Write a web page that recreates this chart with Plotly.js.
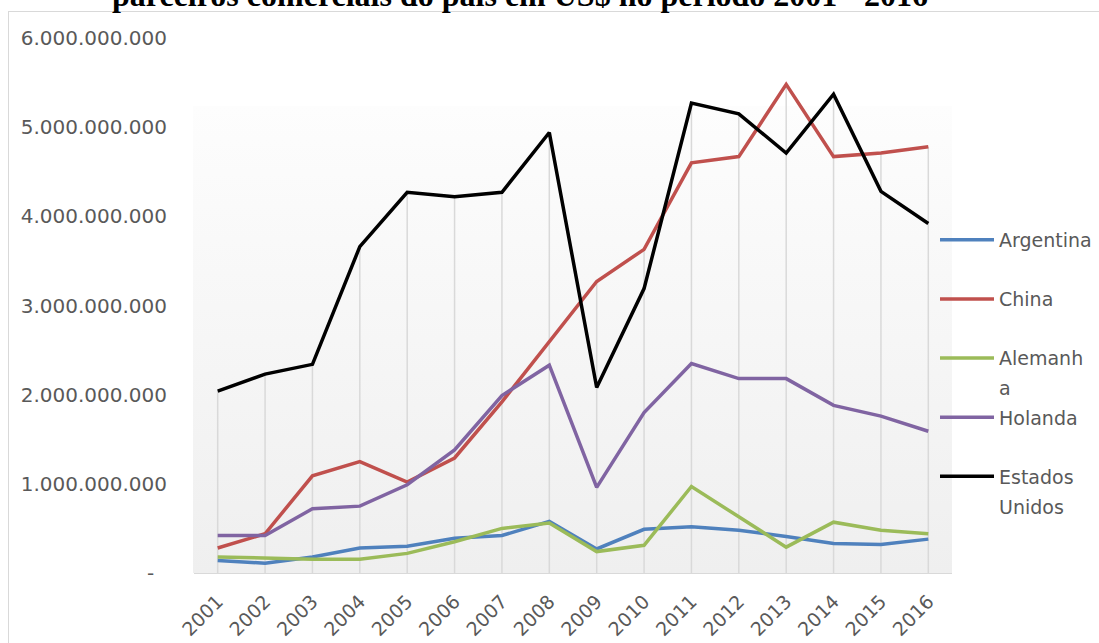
<!DOCTYPE html>
<html>
<head>
<meta charset="utf-8">
<script src="https://cdn.plot.ly/plotly-3.0.1.min.js"></script>
<style>
  html, body { margin: 0; padding: 0; overflow: hidden; background: #ffffff; }
  #frame { position: absolute; left: 8px; top: 11px; width: 2000px; height: 2000px; border: 1px solid #d9d9d9; box-sizing: border-box; }
  #plotbg { position: absolute; left: 193px; top: 106px; width: 759px; height: 467px;
            background: linear-gradient(to bottom, #fdfdfd 0%, #efefef 100%); }
  #chart { position: absolute; left: 0; top: 0; width: 1099px; height: 643px; }
</style>
</head>
<body>
<div id="frame"></div>
<div id="plotbg"></div>
<div id="chart"></div>
<script>
const years = ['2001','2002','2003','2004','2005','2006','2007','2008','2009','2010','2011','2012','2013','2014','2015','2016'];
const argentina = [140000000,110000000,180000000,280000000,300000000,390000000,420000000,580000000,270000000,490000000,520000000,480000000,410000000,330000000,320000000,380000000];
const china = [280000000,440000000,1090000000,1250000000,1020000000,1290000000,1920000000,2590000000,3270000000,3630000000,4600000000,4670000000,5480000000,4670000000,4710000000,4780000000];
const alemanha = [180000000,170000000,155000000,155000000,220000000,350000000,500000000,560000000,240000000,310000000,970000000,630000000,290000000,570000000,480000000,440000000];
const holanda = [420000000,420000000,720000000,750000000,990000000,1380000000,1990000000,2330000000,960000000,1800000000,2350000000,2180000000,2180000000,1880000000,1760000000,1590000000];
const estadosUnidos = [2040000000,2230000000,2340000000,3660000000,4270000000,4220000000,4270000000,4940000000,2080000000,3190000000,5270000000,5150000000,4710000000,5370000000,4280000000,3920000000];

const seriesNames = ['Argentina', 'China', 'Alemanh<br>a', 'Holanda', 'Estados<br>Unidos'];
const yTickVals = [0, 1000000000, 2000000000, 3000000000, 4000000000, 5000000000, 6000000000];
const yTickText = ['-\u00a0\u00a0', '1.000.000.000', '2.000.000.000', '3.000.000.000', '4.000.000.000', '5.000.000.000', '6.000.000.000'];
const titleText = 'parceiros comerciais do país em US$ no período 2001 - 2016';

const allSeries = [argentina, china, alemanha, holanda, estadosUnidos];
const colors = ['#4F81BD', '#C0504D', '#9BBB59', '#8064A2', '#000000'];

// drop lines from the highest value of each year down to the axis
const dropX = [], dropY = [];
years.forEach((yr, i) => {
  const m = Math.max(...allSeries.map(s => s[i]));
  dropX.push(yr, yr, null);
  dropY.push(0, m, null);
});

const traces = [{
  x: dropX, y: dropY, type: 'scatter', mode: 'lines',
  line: {color: '#d9d9d9', width: 1.5}, showlegend: false, hoverinfo: 'skip'
}];
allSeries.forEach((s, k) => {
  const label = seriesNames[k].indexOf('<br>') >= 0 ? seriesNames[k] : seriesNames[k] + '<br>\u00a0';
  traces.push({
    x: years, y: s, type: 'scatter', mode: 'lines',
    name: label, legendgroup: 'g' + k,
    line: {color: colors[k], width: 3.5}
  });
});

const layout = {
  width: 1099, height: 643,
  paper_bgcolor: 'rgba(0,0,0,0)', plot_bgcolor: 'rgba(0,0,0,0)',
  margin: {l: 194, r: 147, t: 38, b: 70, pad: 0, autoexpand: false},
  title: {
    text: '<b>' + titleText + '</b>',
    font: {family: 'Liberation Serif', size: 32, color: '#000000'},
    xref: 'container', x: 520 / 1099, xanchor: 'center',
    yref: 'container', y: 1 - 6 / 643, yanchor: 'bottom'
  },
  xaxis: {
    type: 'category', range: [-0.5, 15.5],
    showgrid: false, zeroline: false,
    showline: true, linecolor: '#d9d9d9', linewidth: 1,
    ticks: '', tickangle: -45, ticklabelstandoff: 9,
    tickfont: {family: 'DejaVu Sans', size: 19, color: '#595959'}
  },
  yaxis: {
    range: [0, 6000000000], showgrid: false, zeroline: false, showline: false,
    tickvals: yTickVals, ticktext: yTickText, ticks: '', ticklabelstandoff: 26,
    tickfont: {family: 'DejaVu Sans', size: 20, color: '#595959'}
  },
  showlegend: true,
  legend: {
    xref: 'paper', yref: 'paper',
    x: (935 - 194) / 758, xanchor: 'left', y: (573 - 221) / 535, yanchor: 'top',
    itemwidth: 54, valign: 'top', tracegroupgap: 6.7,
    bgcolor: 'rgba(0,0,0,0)', borderwidth: 0,
    font: {family: 'DejaVu Sans', size: 19, color: '#595959'}
  },
  hovermode: false
};

Plotly.newPlot('chart', traces, layout, {displayModeBar: false, staticPlot: true}).then(function (gd) {
  gd.querySelectorAll('.legend .legendlines path').forEach(function (p) {
    p.setAttribute('d', 'M5,0h54');
  });
  gd.querySelectorAll('.legend .legendtext tspan.line').forEach(function (t) {
    const dy = t.getAttribute('dy');
    if (dy && /em$/.test(dy)) {
      const v = parseFloat(dy);
      if (v > 0) t.setAttribute('dy', (v * 1.58 / 1.3) + 'em');
    }
  });
});
</script>
</body>
</html>
